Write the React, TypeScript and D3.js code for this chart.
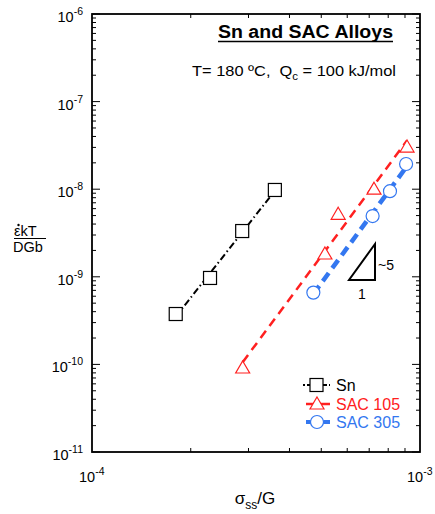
import React from "react";
import * as d3 from "d3";

const snX = [1.8e-4, 2.29e-4, 2.87e-4, 3.61e-4];
const snY = [3.76e-10, 9.7e-10, 3.33e-9, 9.8e-9];
const sac105X = [2.88e-4, 5.13e-4, 5.63e-4, 7.24e-4, 9.13e-4];
const sac105Y = [9.1e-11, 1.82e-9, 5.17e-9, 1.0e-8, 3.03e-8];
const sac305X = [4.73e-4, 7.17e-4, 8.1e-4, 9.07e-4];
const sac305Y = [6.6e-10, 4.94e-9, 9.5e-9, 1.94e-8];
const yDecades = [-6, -7, -8, -9, -10, -11];
const xDecades = [-4, -3];

const W = 435, H = 514;
const L = 92, R = 420, T = 14, B = 452;
const RED = "#ff2020";
const BLUE = "#3377f0";
const FONT = "Liberation Sans, Arial, sans-serif";

function fit(xs: number[], ys: number[]) {
  const lx = xs.map(Math.log10), ly = ys.map(Math.log10);
  const mx = d3.mean(lx)!, my = d3.mean(ly)!;
  let sxy = 0, sxx = 0;
  lx.forEach((v, i) => { sxy += (v - mx) * (ly[i] - my); sxx += (v - mx) ** 2; });
  const b = sxy / sxx;
  const a = my - b * mx;
  const x0 = d3.min(xs)!, x1 = d3.max(xs)!;
  return [[x0, 10 ** (a + b * Math.log10(x0))], [x1, 10 ** (a + b * Math.log10(x1))]];
}

export default function App() {
  const x = d3.scaleLog().domain([1e-4, 1e-3]).range([L, R]);
  const y = d3.scaleLog().domain([1e-11, 1e-6]).range([B, T]);
  const line = d3.line<number[]>().x(d => x(d[0])).y(d => y(d[1]));

  const xMinor: number[] = [];
  for (let m = 2; m <= 9; m++) xMinor.push(m * 1e-4);
  const yMinor: number[] = [];
  for (let e = -11; e < -6; e++) for (let m = 2; m <= 9; m++) yMinor.push(m * 10 ** e);

  const snFit = fit(snX, snY);
  const f105 = fit(sac105X, sac105Y);
  const f305 = fit(sac305X, sac305Y);

  return (
    <svg width={W} height={H} style={{ position: "absolute", left: 0, top: 0 }} fontFamily={FONT}>
      <rect width={W} height={H} fill="#fff" />
      {/* ticks */}
      {xMinor.map((v, i) => (
        <g key={"xm" + i} stroke="#000" strokeWidth={1}>
          <line x1={x(v)} x2={x(v)} y1={B} y2={B - 4} />
          <line x1={x(v)} x2={x(v)} y1={T} y2={T + 4} />
        </g>
      ))}
      {yMinor.map((v, i) => (
        <g key={"ym" + i} stroke="#000" strokeWidth={1}>
          <line x1={L} x2={L + 4} y1={y(v)} y2={y(v)} />
          <line x1={R} x2={R - 4} y1={y(v)} y2={y(v)} />
        </g>
      ))}
      {yDecades.map((e) => (
        <g key={"yd" + e} stroke="#000" strokeWidth={1}>
          <line x1={L} x2={L + 8} y1={y(10 ** e)} y2={y(10 ** e)} />
          <line x1={R} x2={R - 8} y1={y(10 ** e)} y2={y(10 ** e)} />
        </g>
      ))}
      <rect x={L} y={T} width={R - L} height={B - T} fill="none" stroke="#000" strokeWidth={1.8} />
      {/* y tick labels */}
      {yDecades.map((e) => (
        <text key={"yl" + e} x={L - 9} y={y(10 ** e) + 8} textAnchor="end" fontSize={14.5} fill="#000">
          10<tspan dy={-7} fontSize={10.5}>{e}</tspan>
        </text>
      ))}
      {xDecades.map((e) => (
        <text key={"xl" + e} x={x(10 ** e) - 13} y={482} textAnchor="start" fontSize={14.5} fill="#000">
          10<tspan dy={-7} fontSize={10.5}>{e}</tspan>
        </text>
      ))}
      {/* axis titles */}
      <text x={255} y={504} textAnchor="middle" fontSize={17} fill="#000">
        σ<tspan dy={5} fontSize={12}>ss</tspan><tspan dy={-5}>/G</tspan>
      </text>
      <text x={14} y={236} fontSize={14.5} fill="#000">εkT</text>
      <circle cx={18.5} cy={225} r={1.2} fill="#000" />
      <line x1={14} x2={46} y1={238.5} y2={238.5} stroke="#000" strokeWidth={1} />
      <text x={13} y={252} fontSize={14.5} fill="#000">DGb</text>
      {/* titles */}
      <text x={218} y={38} fontSize={18} fontWeight="bold" fill="#000" textLength={175} lengthAdjust="spacingAndGlyphs">Sn and SAC Alloys</text>
      <line x1={218} x2={393} y1={41.5} y2={41.5} stroke="#000" strokeWidth={1.5} />
      <text x={192} y={76} fontSize={15} fill="#000" style={{ whiteSpace: "pre" }} textLength={204} lengthAdjust="spacingAndGlyphs">
        {"T= 180 ºC,  Q"}<tspan dy={4} fontSize={10.5}>c</tspan><tspan dy={-4}>{" = 100 kJ/mol"}</tspan>
      </text>
      {/* fit lines */}
      <path d={line(snFit)!} fill="none" stroke="#000" strokeWidth={2} strokeDasharray="7 3 1.5 3" />
      <path d={line(f105)!} fill="none" stroke={RED} strokeWidth={2.5} strokeDasharray="9 6" />
      <path d={line(f305)!} fill="none" stroke={BLUE} strokeWidth={4.5} strokeDasharray="10 6" />
      {/* markers */}
      {snX.map((v, i) => (
        <rect key={"s" + i} x={x(v) - 6.5} y={y(snY[i]) - 6.5} width={13} height={13} fill="#fff" stroke="#000" strokeWidth={1.2} />
      ))}
      {sac105X.map((v, i) => {
        const cx = x(v), cy = y(sac105Y[i]);
        return <path key={"t" + i} d={`M${cx},${cy - 7}L${cx + 7},${cy + 5}L${cx - 7},${cy + 5}Z`} fill="#fff" stroke={RED} strokeWidth={1.2} />;
      })}
      {sac305X.map((v, i) => (
        <circle key={"c" + i} cx={x(v)} cy={y(sac305Y[i])} r={6.5} fill="#fff" stroke={BLUE} strokeWidth={1.2} />
      ))}
      {/* slope triangle */}
      <path d="M349,280L375,280L375,244Z" fill="none" stroke="#000" strokeWidth={2} />
      <text x={378} y={270} fontSize={14} fill="#000">~5</text>
      <text x={362} y={299} textAnchor="middle" fontSize={14} fill="#000">1</text>
      {/* legend */}
      <g>
        <line x1={303} x2={330} y1={385} y2={385} stroke="#000" strokeWidth={2} strokeDasharray="2 2 20" />
        <rect x={310} y={378.5} width={13} height={13} fill="#fff" stroke="#000" strokeWidth={1.2} />
        <text x={336} y={391} fontSize={16} fill="#000">Sn</text>
        <line x1={306} x2={330} y1={404} y2={404} stroke={RED} strokeWidth={2.5} />
        <path d="M317,397L324,409L310,409Z" fill="#fff" stroke={RED} strokeWidth={1.2} />
        <text x={336} y={410} fontSize={16} fill={RED}>SAC 105</text>
        <line x1={306} x2={330} y1={422} y2={422} stroke={BLUE} strokeWidth={4} />
        <circle cx={317} cy={422} r={6.5} fill="#fff" stroke={BLUE} strokeWidth={1.2} />
        <text x={336} y={428} fontSize={16} fill={BLUE}>SAC 305</text>
      </g>
    </svg>
  );
}
